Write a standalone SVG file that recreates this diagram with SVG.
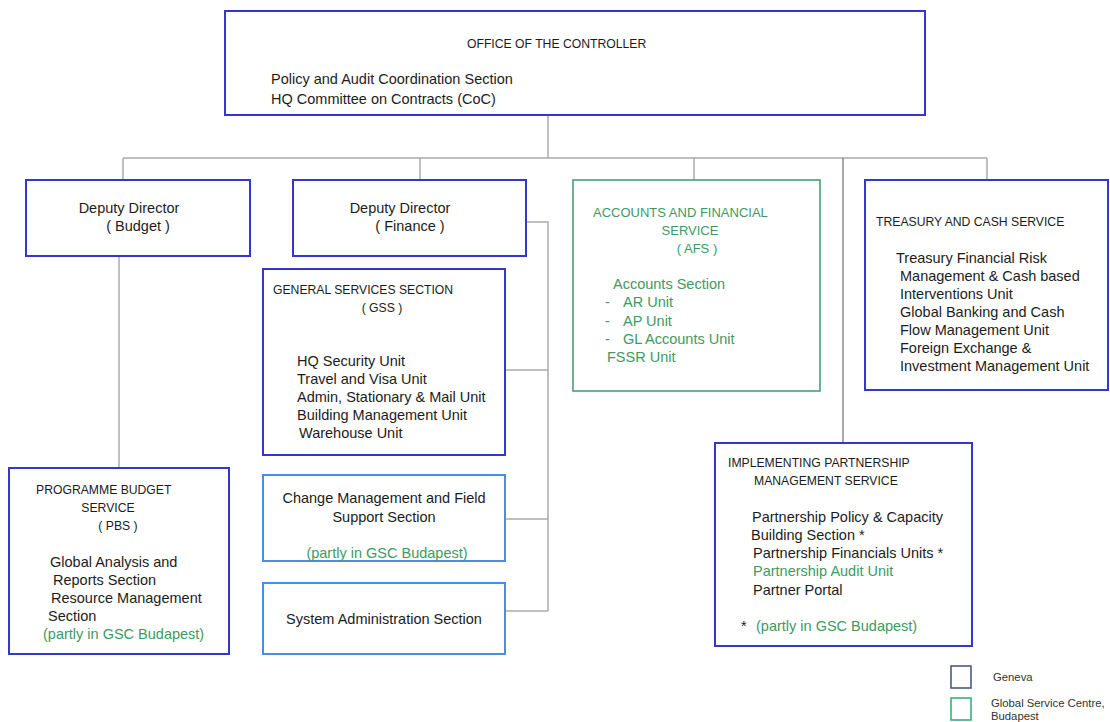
<svg xmlns="http://www.w3.org/2000/svg" width="1110" height="722" viewBox="0 0 1110 722">
  <style>
    text { font-family: "Liberation Sans", Arial, sans-serif; font-size: 14.5px; fill: #1c1c1c; }
    .cap { font-size: 12.2px; }
    .cap-l { font-size: 13px; }
    .leg { font-size: 11.3px; fill: #333; }
    .g { fill: #3e9a63; }
    .mid { text-anchor: middle; }
    .box-geneva { fill: #ffffff; stroke: #3535cf; stroke-width: 2; }
    .box-light { fill: #ffffff; stroke: #4a8de4; stroke-width: 2; }
    .box-gsc { fill: #ffffff; stroke: #47a079; stroke-width: 1.6; }
    .wire { fill: none; stroke: #ababab; stroke-width: 1.5; }
    .wire-dark { fill: none; stroke: #7a7a7a; stroke-width: 1.3; }
  </style>
  <rect width="1110" height="722" fill="#ffffff"/>

  <!-- reporting lines -->
  <g id="connectors">
    <path class="wire" d="M548 115 V158 M123 158 H987 M123 158 V180 M420 158 V180 M694 158 V180 M987 158 V180"/>
    <path class="wire-dark" d="M843 158 V443"/>
    <path class="wire" d="M119 256 V468"/>
    <path class="wire" d="M526 222 H548 V611 M505 370 H548 M505 519 H548 M505 611 H548"/>
  </g>

  <g id="controller">
    <rect class="box-geneva" x="225" y="11" width="700" height="104"/>
    <text class="cap" x="467" y="48">OFFICE OF THE CONTROLLER</text>
    <text x="271" y="84">Policy and Audit Coordination Section</text>
    <text x="271" y="104">HQ Committee on Contracts (CoC)</text>
  </g>

  <g id="dd-budget">
    <rect class="box-geneva" x="26" y="180" width="224" height="76"/>
    <text class="mid" x="129" y="213" font-size="14px">Deputy Director</text>
    <text class="mid" x="138" y="231" font-size="14px">( Budget  )</text>
  </g>

  <g id="dd-finance">
    <rect class="box-geneva" x="293" y="180" width="233" height="76"/>
    <text class="mid" x="400" y="213" font-size="14px">Deputy Director</text>
    <text class="mid" x="410" y="231" font-size="14px">( Finance  )</text>
  </g>

  <g id="afs">
    <rect class="box-gsc" x="573" y="180" width="247" height="211"/>
    <text class="cap-l g" x="593" y="217">ACCOUNTS AND FINANCIAL</text>
    <text class="cap-l g mid" x="690" y="235">SERVICE</text>
    <text class="cap-l g mid" x="697" y="253">( AFS )</text>
    <text class="g" x="613" y="289">Accounts Section</text>
    <text class="g" x="605" y="307">-</text>
    <text class="g" x="623" y="307">AR Unit</text>
    <text class="g" x="605" y="326">-</text>
    <text class="g" x="623" y="326">AP Unit</text>
    <text class="g" x="605" y="344">-</text>
    <text class="g" x="623" y="344">GL Accounts Unit</text>
    <text class="g" x="607" y="362">FSSR Unit</text>
  </g>

  <g id="treasury">
    <rect class="box-geneva" x="865" y="180" width="243" height="210"/>
    <text class="cap" x="876" y="226">TREASURY AND CASH SERVICE</text>
    <text x="896" y="263">Treasury Financial Risk</text>
    <text x="900" y="281">Management &amp; Cash based</text>
    <text x="900" y="299">Interventions Unit</text>
    <text x="900" y="317">Global Banking and Cash</text>
    <text x="900" y="335">Flow Management Unit</text>
    <text x="900" y="353">Foreign Exchange &amp;</text>
    <text x="900" y="371">Investment Management Unit</text>
  </g>

  <g id="gss">
    <rect class="box-geneva" x="263" y="269" width="242" height="186"/>
    <text class="cap" x="273" y="294">GENERAL SERVICES SECTION</text>
    <text class="cap mid" x="382" y="312">( GSS )</text>
    <text x="297" y="366">HQ Security Unit</text>
    <text x="297" y="384">Travel and Visa Unit</text>
    <text x="297" y="402">Admin, Stationary &amp; Mail Unit</text>
    <text x="297" y="420">Building Management Unit</text>
    <text x="299" y="438">Warehouse Unit</text>
  </g>

  <g id="change-management">
    <rect class="box-light" x="263" y="475" width="242" height="86"/>
    <text class="mid" x="384" y="503">Change Management and Field</text>
    <text class="mid" x="384" y="522">Support Section</text>
    <text class="g mid" x="387" y="558">(partly in GSC Budapest)</text>
  </g>

  <g id="system-administration">
    <rect class="box-light" x="263" y="583" width="242" height="71"/>
    <text class="mid" x="384" y="624">System Administration Section</text>
  </g>

  <g id="pbs">
    <rect class="box-geneva" x="9" y="468" width="220" height="186"/>
    <text class="cap" x="36" y="494">PROGRAMME BUDGET</text>
    <text class="cap mid" x="108" y="512">SERVICE</text>
    <text class="cap mid" x="118" y="530">( PBS )</text>
    <text x="50" y="567">Global Analysis and</text>
    <text x="53" y="585">Reports Section</text>
    <text x="51" y="603">Resource Management</text>
    <text x="48" y="621">Section</text>
    <text class="g" x="43" y="639">(partly in GSC Budapest)</text>
  </g>

  <g id="ipms">
    <rect class="box-geneva" x="715" y="443" width="257" height="203"/>
    <text class="cap" x="728" y="467">IMPLEMENTING PARTNERSHIP</text>
    <text class="cap" x="754" y="485">MANAGEMENT SERVICE</text>
    <text x="752" y="522">Partnership Policy &amp; Capacity</text>
    <text x="751" y="540">Building Section *</text>
    <text x="753" y="558">Partnership Financials Units *</text>
    <text class="g" x="753" y="576">Partnership Audit Unit</text>
    <text x="753" y="595">Partner Portal</text>
    <text x="741" y="631">*</text>
    <text class="g" x="756" y="631">(partly in GSC Budapest)</text>
  </g>

  <g id="legend">
    <rect x="951" y="666" width="20" height="22" fill="#ffffff" stroke="#4b5a86" stroke-width="1.6"/>
    <text class="leg" x="993" y="681">Geneva</text>
    <rect x="951" y="698" width="20" height="22" fill="#ffffff" stroke="#3fae74" stroke-width="1.6"/>
    <text class="leg" x="991" y="707">Global Service Centre,</text>
    <text class="leg" x="991" y="720">Budapest</text>
  </g>
</svg>
